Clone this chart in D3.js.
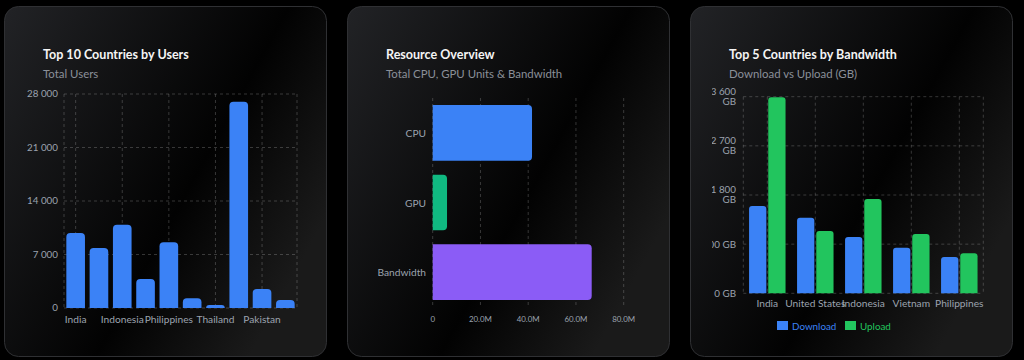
<!DOCTYPE html>
<html>
<head>
<meta charset="utf-8">
<script src="https://cdn.jsdelivr.net/npm/d3@7"></script>
<style>
  html, body { margin: 0; padding: 0; background: #000; }
  svg { display: block; }
  text { font-family: Lato, "Open Sans", sans-serif; }
</style>
</head>
<body>
<svg id="chart" width="1024" height="360"></svg>
<script>
// ---------- data ----------
const userCountries = ["India", "Vietnam", "Indonesia", "Bangladesh", "Philippines", "Malaysia", "Thailand", "United States", "Pakistan", "Brazil"];
const userValues = [9800, 7850, 10900, 3800, 8600, 1260, 400, 27000, 2500, 1050];
const userTicks = [0, 7000, 14000, 21000, 28000];

const resourceNames = ["CPU", "GPU", "Bandwidth"];
const resourceValues = [41.6e6, 6.0e6, 66.6e6];
const resourceColors = ["#3b82f6", "#10b981", "#8b5cf6"];
const resourceTicks = [0, 20e6, 40e6, 60e6, 80e6];

const bwCountries = ["India", "United States", "Indonesia", "Vietnam", "Philippines"];
const bwDownload = [1600, 1385, 1030, 835, 665];
const bwUpload = [3590, 1140, 1727, 1086, 732];
const bwSeries = ["Download", "Upload"];
const bwColors = ["#3b82f6", "#22c55e"];
const bwTicks = [0, 900, 1800, 2700, 3600];

const titles = ["Top 10 Countries by Users", "Resource Overview", "Top 5 Countries by Bandwidth"];
const subtitles = ["Total Users", "Total CPU, GPU Units & Bandwidth", "Download vs Upload (GB)"];

// ---------- helpers ----------
const svg = d3.select("#chart");
const defs = svg.append("defs");
const grad = defs.append("linearGradient").attr("id", "cardbg")
  .attr("x1", "0%").attr("y1", "0%").attr("x2", "100%").attr("y2", "60%");
grad.append("stop").attr("offset", "0%").attr("stop-color", "#222326");
grad.append("stop").attr("offset", "65%").attr("stop-color", "#020202");
grad.append("stop").attr("offset", "100%").attr("stop-color", "#1a1a1a");

const GRID = "rgba(255,255,255,0.2)";
const TICK = "#9ca3af";
const thousands = v => d3.format(",")(v).replace(/,/g, " ");

// size a font so that a sample string has the width seen in the reference
function fitSize(sample, target, weight) {
  const t = svg.append("text").attr("font-size", 20).attr("font-weight", weight || 400).text(sample);
  const w = t.node().getComputedTextLength();
  t.remove();
  return 20 * target / w;
}
const FS_TITLE = fitSize("Top 10 Countries by Users", 146, 700);
const FS_SUB = fitSize("Total CPU, GPU Units & Bandwidth", 176.5);
const FS_TICK = fitSize("28 000", 31);
const FS_CAT = fitSize("Philippines", 48.5);
const FS_XM = fitSize("80.0M", 23);
const FS_LEG = fitSize("Download", 44.4);

function topRounded(x, y, w, h, r) {
  r = Math.min(r, w / 2, h);
  return `M${x},${y + h}V${y + r}Q${x},${y} ${x + r},${y}H${x + w - r}Q${x + w},${y} ${x + w},${y + r}V${y + h}Z`;
}
function rightRounded(x, y, w, h, r) {
  r = Math.min(r, h / 2, w);
  return `M${x},${y}H${x + w - r}Q${x + w},${y} ${x + w},${y + r}V${y + h - r}Q${x + w},${y + h} ${x + w - r},${y + h}H${x}Z`;
}

// ---------- cards ----------
const cardX = [4, 347, 690];
cardX.forEach((cx, i) => {
  svg.append("rect").attr("x", cx + 0.5).attr("y", 6.5).attr("width", 322).attr("height", 350)
    .attr("rx", 14).attr("fill", "url(#cardbg)").attr("stroke", "#2f3033").attr("stroke-width", 1);
  svg.append("text").attr("x", cx + 39).attr("y", 59).text(titles[i])
    .attr("fill", "#f5f5f5").attr("font-weight", 700).attr("font-size", FS_TITLE);
  svg.append("text").attr("x", cx + 39).attr("y", 78).text(subtitles[i])
    .attr("fill", "#8b9099").attr("font-size", FS_SUB);
});

// ---------- chart 1 ----------
{
  const g = svg.append("g");
  const x = d3.scaleBand().domain(userCountries).range([64, 297]);
  const y = d3.scaleLinear().domain([0, 28000]).range([308, 94]);
  g.selectAll(".hg").data(userTicks).join("line")
    .attr("x1", 64).attr("x2", 297).attr("y1", d => y(d)).attr("y2", d => y(d))
    .attr("stroke", GRID).attr("stroke-dasharray", "3,3");
  const vx = [64, 297].concat(userCountries.filter((d, i) => i % 2 === 0).map(d => x(d) + x.bandwidth() / 2));
  g.selectAll(".vg").data(vx).join("line")
    .attr("x1", d => d).attr("x2", d => d).attr("y1", 94).attr("y2", 308)
    .attr("stroke", GRID).attr("stroke-dasharray", "3,3");
  const bw = x.bandwidth() * 0.8;
  g.selectAll(".bar").data(userValues).join("path")
    .attr("d", (d, i) => topRounded(x(userCountries[i]) + (x.bandwidth() - bw) / 2, y(d), bw, y(0) - y(d), 4))
    .attr("fill", "#3b82f6");
  g.selectAll(".yl").data(userTicks).join("text")
    .attr("x", 58).attr("y", d => y(d)).attr("dy", "0.35em").attr("text-anchor", "end")
    .attr("fill", TICK).attr("font-size", FS_TICK).text(d => thousands(d));
  g.selectAll(".xl").data(userCountries.filter((d, i) => i % 2 === 0)).join("text")
    .attr("x", d => x(d) + x.bandwidth() / 2).attr("y", 323).attr("text-anchor", "middle")
    .attr("fill", TICK).attr("font-size", FS_CAT).text(d => d);
}

// ---------- chart 2 ----------
{
  const g = svg.append("g");
  const x = d3.scaleLinear().domain([0, 80e6]).range([432.7, 623.7]);
  const y = d3.scaleBand().domain(resourceNames).range([99, 308]);
  g.selectAll(".vg").data(resourceTicks).join("line")
    .attr("x1", d => x(d)).attr("x2", d => x(d)).attr("y1", 98).attr("y2", 305)
    .attr("stroke", GRID).attr("stroke-dasharray", "3,3");
  const bh = y.bandwidth() * 0.8;
  g.selectAll(".bar").data(resourceValues).join("path")
    .attr("d", (d, i) => rightRounded(x(0), y(resourceNames[i]) + (y.bandwidth() - bh) / 2 - 1, x(d) - x(0), bh, 4))
    .attr("fill", (d, i) => resourceColors[i]);
  g.selectAll(".yl").data(resourceNames).join("text")
    .attr("x", 426).attr("y", d => y(d) + y.bandwidth() / 2 - 0.5).attr("dy", "0.35em").attr("text-anchor", "end")
    .attr("fill", TICK).attr("font-size", FS_CAT).text(d => d);
  g.selectAll(".xl").data(resourceTicks).join("text")
    .attr("x", d => x(d)).attr("y", 322).attr("text-anchor", "middle")
    .attr("fill", TICK).attr("font-size", FS_XM).text(d => d === 0 ? "0" : (d / 1e6).toFixed(1) + "M");
}

// ---------- chart 3 ----------
{
  const g = svg.append("g");
  const x = d3.scaleBand().domain(bwCountries).range([743.3, 983.3]);
  const y = d3.scaleLinear().domain([0, 3600]).range([293.3, 96.7]);
  const x1 = d3.scaleBand().domain(bwSeries).range([0, x.bandwidth() * 0.8]);
  g.selectAll(".hg").data(bwTicks).join("line")
    .attr("x1", 743.3).attr("x2", 983.3).attr("y1", d => y(d)).attr("y2", d => y(d))
    .attr("stroke", GRID).attr("stroke-dasharray", "3,3");
  const vx = [743.3, 983.3].concat(bwCountries.map(d => x(d) + x.bandwidth() / 2));
  g.selectAll(".vg").data(vx).join("line")
    .attr("x1", d => d).attr("x2", d => d).attr("y1", 96.7).attr("y2", 293.3)
    .attr("stroke", GRID).attr("stroke-dasharray", "3,3");
  const series = [bwDownload, bwUpload];
  series.forEach((vals, s) => {
    const bw = x1.bandwidth() * 0.9;
    g.selectAll(".bar" + s).data(vals).join("path")
      .attr("d", (d, i) => topRounded(x(bwCountries[i]) + x.bandwidth() * 0.1 + x1(bwSeries[s]) + (x1.bandwidth() - bw) / 2,
        y(d), bw, y(0) - y(d), 3))
      .attr("fill", bwColors[s]);
  });
  // y tick labels (clipped at the canvas edge like the reference)
  defs.append("clipPath").attr("id", "yclip3").append("rect")
    .attr("x", 712).attr("y", 80).attr("width", 40).attr("height", 230);
  const yl = g.append("g").attr("clip-path", "url(#yclip3)");
  bwTicks.forEach(t => {
    const lbl = thousands(t);
    const lines = t >= 1000 ? [lbl, "GB"] : [lbl + " GB"];
    const txt = yl.append("text").attr("text-anchor", "end").attr("fill", TICK).attr("font-size", FS_TICK);
    lines.forEach((ln, k) => {
      txt.append("tspan").attr("x", 736)
        .attr("y", y(t) + (lines.length === 1 ? 0 : (k === 0 ? -5 : 5)))
        .attr("dy", "0.35em").text(ln);
    });
  });
  g.selectAll(".xl").data(bwCountries).join("text")
    .attr("x", d => x(d) + x.bandwidth() / 2).attr("y", 307).attr("text-anchor", "middle")
    .attr("fill", TICK).attr("font-size", FS_CAT).text(d => d);
  const legX = [777, 845];
  bwSeries.forEach((s, i) => {
    g.append("rect").attr("x", legX[i]).attr("y", 321).attr("width", 11).attr("height", 9).attr("fill", bwColors[i]);
    g.append("text").attr("x", legX[i] + 15).attr("y", 329.5).attr("fill", bwColors[i])
      .attr("font-size", FS_LEG).text(s);
  });
}
</script>
</body>
</html>
